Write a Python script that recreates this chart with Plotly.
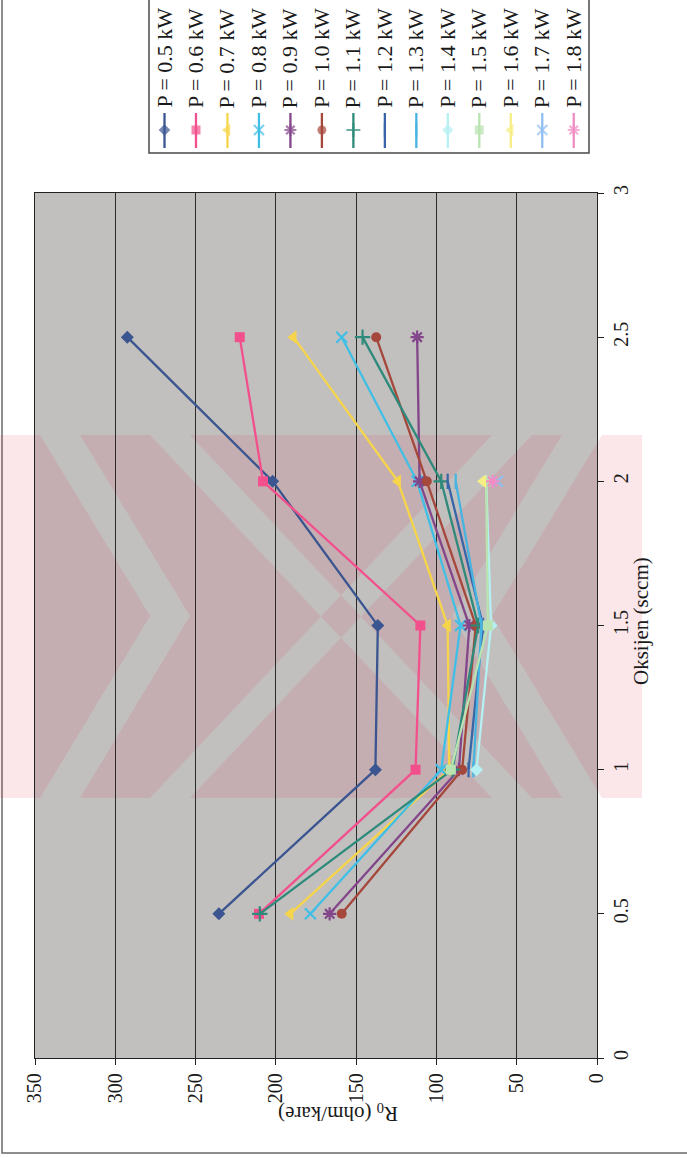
import plotly.graph_objects as go

W, H = 687, 1158

# ---------------- data ----------------
oxygen = [0.5, 1.0, 1.5, 2.0, 2.5]
series_names = ["P = 0.5 kW", "P = 0.6 kW", "P = 0.7 kW", "P = 0.8 kW", "P = 0.9 kW",
                "P = 1.0 kW", "P = 1.1 kW", "P = 1.2 kW", "P = 1.3 kW", "P = 1.4 kW",
                "P = 1.5 kW", "P = 1.6 kW", "P = 1.7 kW", "P = 1.8 kW"]
r0_p05 = [235.5, 138, 136.5, 202, 292.5]
r0_p06 = [210.5, 113, 110, 208, 222.5]
r0_p07 = [191, 92, 93, 124, 189]
r0_p08 = [178.5, 97, 85, 112, 159]
r0_p09 = [166.5, 86, 79.5, 110.5, 112]
r0_p10 = [159, 84, 75.5, 106, 137.5]
r0_p11 = [210, 90, 74, 97, 146]
r0_p12 = [None, 80, 71, 93, None]
r0_p13 = [None, 77, 72, 88, None]
r0_p14 = [None, 75, 66, 69, None]
r0_p15 = [None, 91, 68, 69, None]
r0_p16 = [None, None, None, 71, None]
r0_p17 = [None, None, None, 62, None]
r0_p18 = [None, None, None, 65, None]
r0_ticks = [0, 50, 100, 150, 200, 250, 300, 350]
oxygen_ticks = [0, 0.5, 1, 1.5, 2, 2.5, 3]

all_series = [r0_p05, r0_p06, r0_p07, r0_p08, r0_p09, r0_p10, r0_p11,
              r0_p12, r0_p13, r0_p14, r0_p15, r0_p16, r0_p17, r0_p18]

# ---------------- styles ----------------
colors = ["#3a5590", "#f2508c", "#f7d54a", "#3fbfe6", "#83468a", "#a5473a", "#2e8a7a",
          "#3766a8", "#47b3e0", "#b5f0f3", "#b9e3b0", "#f7ee86", "#8fbff0", "#f28cc4"]
symbols = ["diamond", "square", "triangle-left", "x-thin", "asterisk", "circle", "cross-thin",
           "line-ns", "line-ns", "diamond", "square", "triangle-left", "x-thin", "asterisk"]
thin = {"x-thin", "asterisk", "cross-thin", "line-ns"}
FONT = "Liberation Serif"
TXT = "#1a1a1a"

def px(x):
    return x / W

def py(y):
    return 1 - y / H

# plot area in pixels
PL, PR, PT, PB = 35, 597, 193, 1058

fig = go.Figure()

def marker_style(i, size=10):
    s = symbols[i]
    if s in thin:
        return dict(symbol=s, size=size + 1, color=colors[i],
                    line=dict(color=colors[i], width=2.2))
    if s.startswith("triangle"):
        size += 2
    return dict(symbol=s, size=size, color=colors[i], line=dict(width=0))

for i, vals in enumerate(all_series):
    fig.add_trace(go.Scatter(
        x=vals, y=oxygen, mode="lines+markers", name=series_names[i],
        line=dict(color=colors[i], width=2.3),
        marker=marker_style(i),
        cliponaxis=False, showlegend=False, xaxis="x", yaxis="y"))

# ---------------- custom rotated legend ----------------
leg_x0, leg_dx = 164.5, 31.48
for i in range(len(series_names)):
    cx = leg_x0 + i * leg_dx
    m = marker_style(i, 9)
    m["size"] = [0, m["size"], 0]
    fig.add_trace(go.Scatter(
        x=[cx, cx, cx], y=[113, 130, 148], mode="lines+markers",
        line=dict(color=colors[i], width=2.3), marker=m,
        showlegend=False, xaxis="x2", yaxis="y2", hoverinfo="skip"))
    fig.add_annotation(
        x=px(cx), y=py(58), xref="paper", yref="paper", text=series_names[i],
        textangle=-90, showarrow=False, xanchor="center", yanchor="middle",
        font=dict(family=FONT, size=22, color=TXT))

# ---------------- axis titles ----------------
fig.add_annotation(x=px(655), y=py(621), xref="paper", yref="paper",
                   text="Oksijen (sccm)", textangle=-90, showarrow=False,
                   font=dict(family=FONT, size=21, color=TXT))
fig.add_annotation(x=px(338), y=py(1128), xref="paper", yref="paper",
                   text="R<sub>0</sub> (ohm/kare)", textangle=180, showarrow=False,
                   font=dict(family=FONT, size=21, color=TXT))

# ---------------- background shapes ----------------
shapes = []
# outer chart border (left & bottom visible)
shapes.append(dict(type="rect", xref="paper", yref="paper",
                   x0=px(2), x1=px(720), y0=py(1153), y1=py(-20),
                   line=dict(color="#6a6a6a", width=1.5), fillcolor="rgba(0,0,0,0)", layer="below"))
# legend box
shapes.append(dict(type="rect", xref="paper", yref="paper",
                   x0=px(149), x1=px(589), y0=py(153), y1=py(-5),
                   line=dict(color="#4a4a4a", width=1.5), fillcolor="white", layer="below"))
# plot area
shapes.append(dict(type="rect", xref="paper", yref="paper",
                   x0=px(PL), x1=px(PR), y0=py(PB), y1=py(PT),
                   line=dict(width=0), fillcolor="#c2bfbf", layer="below"))

# scanned watermark (pink X pattern)
def poly(pts):
    return "M " + " L ".join(f"{px(a):.5f},{py(b):.5f}" for a, b in pts) + " Z"

w = 40
t, b, mid = 435, 798, 616
band = [(0, t), (642, t), (642, b), (0, b)]
left_chev = [(40, t), (40 + w, t), (150 + w, mid), (40 + w, b), (40, b), (150, mid)]
right_chev = [(642 - a, c) for a, c in left_chev]
diag1 = [(150, t), (150 + w, t), (492 + w, b), (492, b)]
diag2 = [(492, t), (492 + w, t), (150 + w, b), (150, b)]
path = " ".join(poly(p) for p in [band, left_chev, right_chev, diag1, diag2])
shapes.append(dict(type="path", xref="paper", yref="paper", path=path,
                   fillcolor="rgba(225,60,85,0.13)", line=dict(width=0), layer="below"))

fig.update_layout(
    template="none",
    width=W, height=H, autosize=False,
    margin=dict(l=0, r=0, t=0, b=0, pad=0),
    paper_bgcolor="white", plot_bgcolor="rgba(0,0,0,0)",
    shapes=shapes, showlegend=False,
    font=dict(family=FONT, size=20, color=TXT),
    xaxis=dict(domain=[px(PL), px(PR)], range=[350, 0], tickvals=r0_ticks,
               tickangle=-90, ticks="outside", ticklen=6, tickcolor="#222",
               showline=True, linecolor="#222", linewidth=1.2, mirror=True,
               showgrid=True, gridcolor="#2a2a2a", gridwidth=1, zeroline=False,
               tickfont=dict(family=FONT, size=20, color=TXT),
               anchor="y", fixedrange=True, automargin=False),
    yaxis=dict(domain=[py(PB), py(PT)], range=[0, 3], tickvals=oxygen_ticks,
               side="right", tickangle=-90, ticks="outside", ticklen=6, tickcolor="#222",
               showline=True, linecolor="#222", linewidth=1.2, mirror=True,
               showgrid=False, zeroline=False,
               tickfont=dict(family=FONT, size=20, color=TXT),
               anchor="x", fixedrange=True, automargin=False),
    xaxis2=dict(domain=[0, 1], range=[0, W], visible=False, anchor="y2",
                fixedrange=True, automargin=False),
    yaxis2=dict(domain=[0, 1], range=[H, 0], visible=False, anchor="x2",
                fixedrange=True, automargin=False),
)

fig.write_html("out.html",
               config={"displayModeBar": False, "staticPlot": True},
               post_script="document.body.style.margin='0px';document.body.style.overflow='hidden';")
